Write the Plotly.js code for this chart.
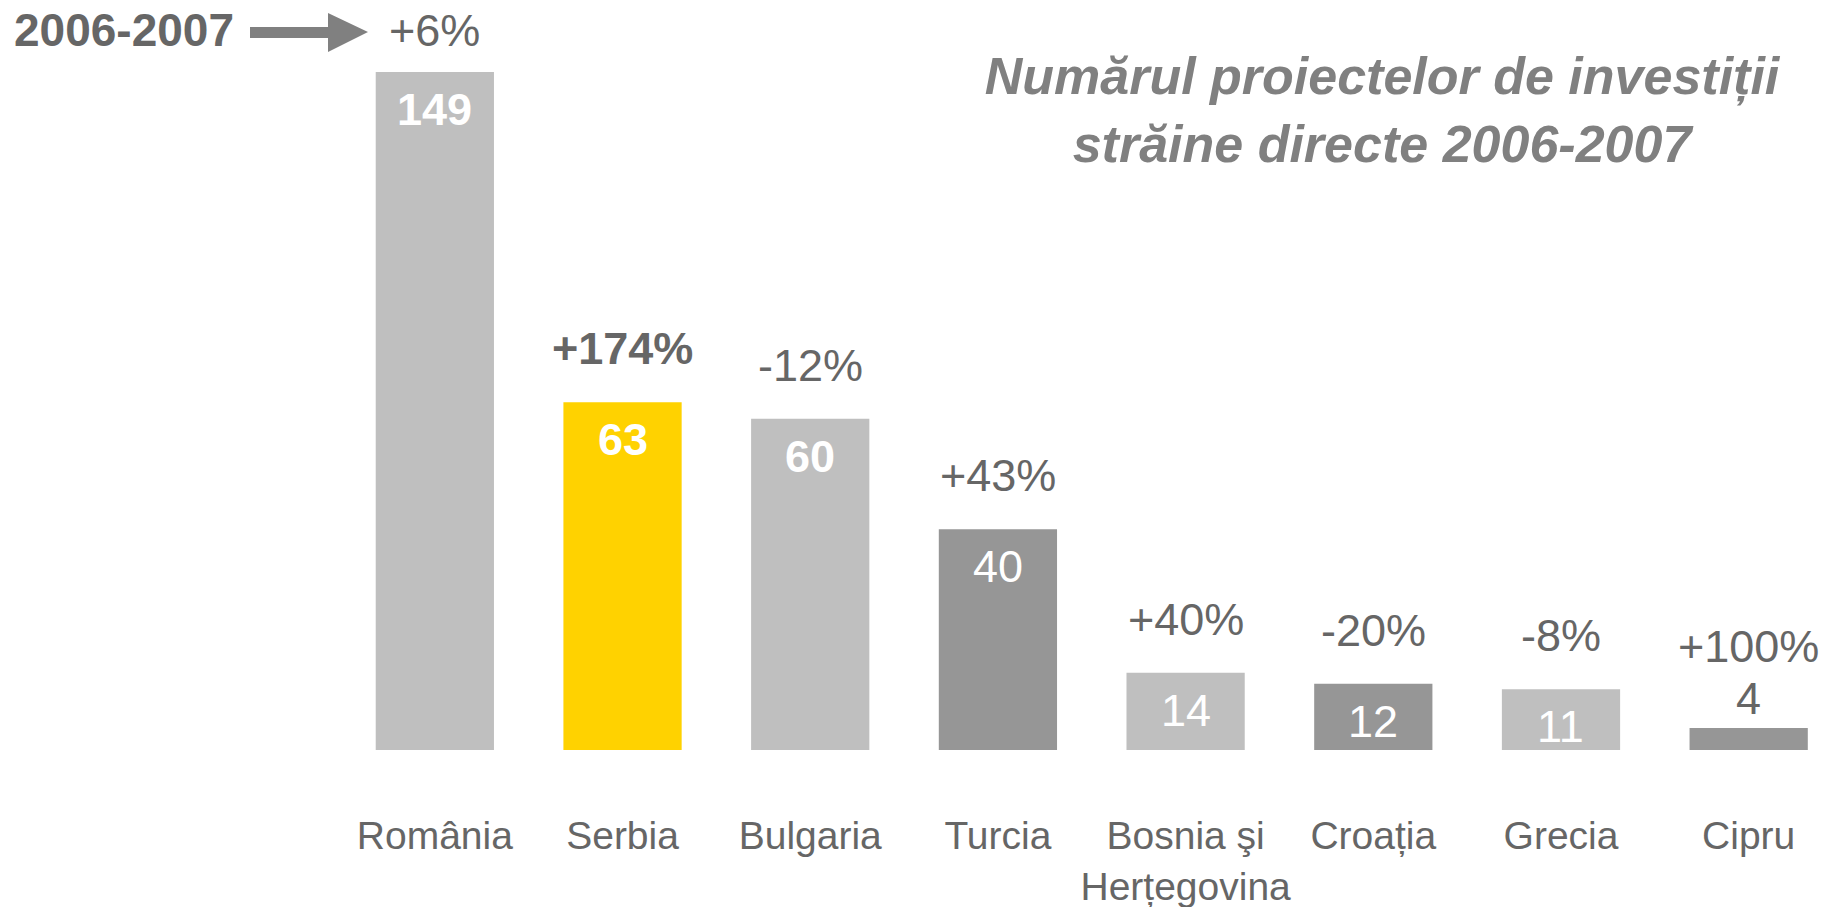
<!DOCTYPE html>
<html>
<head>
<meta charset="utf-8">
<script src="https://cdn.plot.ly/plotly-3.0.1.min.js"></script>
<style>
  html, body { margin: 0; padding: 0; background: #fff; }
  #chart { width: 1827px; height: 907px; }
</style>
</head>
<body>
<div id="chart"></div>
<script>
// Data
const countries = ['România', 'Serbia', 'Bulgaria', 'Turcia', 'Bosnia şi<br>Herțegovina', 'Croația', 'Grecia', 'Cipru'];
const projects = [149, 63, 60, 40, 14, 12, 11, 4];
const growth = ['+6%', '+174%', '-12%', '+43%', '+40%', '-20%', '-8%', '+100%'];

// Styling
const barColors = ['#bfbfbf', '#ffd200', '#bfbfbf', '#969696', '#bfbfbf', '#969696', '#bfbfbf', '#969696'];
const boldLabel = [true, true, true, false, false, false, false, false];
const FONT = 'Liberation Sans, Arial, sans-serif';
const W = 1827, H = 907;
const M = { l: 341, r: 10, t: 72, b: 157 };
const yMax = 122.8; // Romania bar is cut off at the top, like in the original

// pixel -> paper helpers for the decorations outside the plot
const px2x = (px) => (px - M.l) / (W - M.l - M.r);
const px2y = (py) => (H - M.b - py) / (H - M.t - M.b);

const trace = {
  x: countries,
  y: projects,
  type: 'bar',
  width: 0.63,
  marker: { color: barColors },
  hoverinfo: 'x+y',
};

const annotations = [];

projects.forEach((v, i) => {
  const clipped = v > yMax;
  const yTop = Math.min(v, yMax);
  const outside = v < 8;
  // value label
  annotations.push({
    x: countries[i], y: yTop, xref: 'x', yref: 'y',
    text: boldLabel[i] ? '<b>' + v + '</b>' : String(v),
    showarrow: false,
    yanchor: outside ? 'bottom' : 'top',
    yshift: outside ? 2 : -10,
    font: { family: FONT, size: 45, color: outside ? '#666666' : '#ffffff' },
  });
  // growth label (less headroom above the cut-off bar)
  annotations.push({
    x: countries[i], y: yTop, xref: 'x', yref: 'y',
    text: i === 1 ? '<b>' + growth[i] + '</b>' : growth[i],
    showarrow: false,
    yanchor: 'bottom',
    yshift: outside ? 54 : (clipped ? 14 : 26),
    font: { family: FONT, size: 45, color: '#666666' },
  });
});

// "2006-2007" label at top-left
annotations.push({
  xref: 'paper', yref: 'paper',
  x: px2x(12), y: px2y(30),
  xanchor: 'left', yanchor: 'middle',
  text: '<b>2006-2007</b>',
  showarrow: false,
  font: { family: FONT, size: 46, color: '#666666' },
});

const arrowPts = [[250, 27], [328, 27], [328, 13], [368, 32], [328, 52], [328, 38], [250, 38]];
const arrowPath = 'M' + arrowPts.map((p) => px2x(p[0]) + ',' + px2y(p[1])).join(' L') + ' Z';

const layout = {
  width: W,
  height: H,
  margin: M,
  paper_bgcolor: '#ffffff',
  plot_bgcolor: '#ffffff',
  showlegend: false,
  title: {
    text: '<b><i>Numărul proiectelor de investiții<br>străine directe 2006-2007</i></b>',
    font: { family: FONT, size: 52, color: '#808080' },
    xref: 'container', yref: 'container',
    x: 1382 / W, y: 1 - 94 / H,
    xanchor: 'center', yanchor: 'middle',
  },
  xaxis: {
    type: 'category',
    range: [-0.5, 7.364],
    showline: false,
    showgrid: false,
    zeroline: false,
    ticks: '',
    ticklabelstandoff: 59,
    tickfont: { family: FONT, size: 39, color: '#666666' },
    fixedrange: true,
  },
  yaxis: {
    range: [0, yMax],
    visible: false,
    showgrid: false,
    zeroline: false,
    fixedrange: true,
  },
  shapes: [{
    type: 'path',
    xref: 'paper', yref: 'paper',
    path: arrowPath,
    fillcolor: '#808080',
    line: { width: 0 },
  }],
  annotations: annotations,
};

Plotly.newPlot('chart', [trace], layout, { displayModeBar: false, responsive: false });
</script>
</body>
</html>
